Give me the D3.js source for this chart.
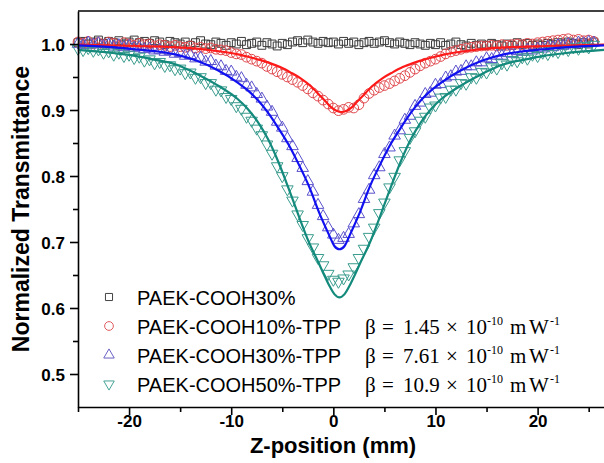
<!DOCTYPE html>
<html>
<head>
<meta charset="utf-8">
<script src="https://cdn.jsdelivr.net/npm/d3@7"></script>
<style>
  html, body { margin: 0; padding: 0; background: #fff; }
  svg { display: block; }
</style>
</head>
<body>
<svg id="chart" width="604" height="463"></svg>
<script>
// Z-scan open-aperture transmittance, step of 0.5 mm along z
const zSamples = d3.range(-25, 25.51, 0.5);

const paek30 = [
  1.002, 1.004, 1.000, 1.003, 1.006, 1.001, 1.004, 1.002, 1.005, 1.000,
  1.003, 1.006, 1.002, 1.004, 1.001, 1.005, 1.003, 0.999, 1.004, 1.002,
  1.000, 1.003, 0.998, 1.002, 1.005, 1.000, 0.999, 1.003, 1.001, 0.998,
  1.002, 1.000, 1.004, 0.999, 1.001, 1.003, 0.998, 1.002, 1.000, 0.997,
  1.001, 0.999, 1.003, 1.005, 1.002, 1.006, 1.003, 1.001, 1.004, 1.002,
  1.003, 1.000, 1.004, 1.001, 1.003, 0.999, 1.002, 1.004, 1.001, 1.003,
  1.005, 1.002, 1.000, 1.003, 1.001, 0.999, 1.002, 1.000, 0.998, 1.001,
  0.999, 1.002, 0.998, 1.000, 1.003, 0.999, 0.997, 1.001, 0.998, 1.000,
  0.998, 1.001, 0.999, 0.997, 1.000, 0.998, 1.002, 0.999, 1.001, 0.998,
  1.000, 0.998, 1.001, 0.999, 1.002, 1.000, 1.003, 1.001, 0.999, 1.002, 1.000, 1.003
];

const tpp10 = [
  1.003, 1.001, 1.004, 1.000, 1.002, 0.999, 1.003, 1.001, 0.998, 1.002,
  1.000, 0.998, 1.001, 0.999, 1.000, 0.997, 0.999, 0.998, 0.996, 0.998,
  0.996, 0.995, 0.997, 0.994, 0.995, 0.993, 0.994, 0.992, 0.991, 0.990,
  0.987, 0.985, 0.984, 0.980, 0.977, 0.974, 0.971, 0.966, 0.962, 0.958,
  0.954, 0.950, 0.946, 0.942, 0.937, 0.932, 0.926, 0.921, 0.915, 0.909,
  0.903, 0.899, 0.901, 0.904, 0.903, 0.908, 0.918, 0.925, 0.930, 0.934,
  0.937, 0.940, 0.944, 0.948, 0.952, 0.957, 0.962, 0.967, 0.971, 0.974,
  0.977, 0.981, 0.985, 0.988, 0.990, 0.992, 0.994, 0.995, 0.996, 0.997,
  0.997, 0.998, 0.997, 0.999, 0.998, 0.999, 1.000, 0.999, 1.001, 1.000,
  1.002, 1.003, 1.004, 1.005, 1.006, 1.007, 1.008, 1.006, 1.007, 1.005, 1.006, 1.004
];

const tpp30 = [
  1.000, 0.998, 1.002, 0.999, 1.001, 0.997, 0.999, 0.996, 0.998, 0.995,
  0.997, 0.994, 0.995, 0.992, 0.993, 0.990, 0.991, 0.988, 0.989, 0.985,
  0.986, 0.982, 0.983, 0.978, 0.979, 0.973, 0.974, 0.967, 0.966, 0.959,
  0.958, 0.950, 0.948, 0.938, 0.934, 0.924, 0.917, 0.905, 0.897, 0.882,
  0.873, 0.857, 0.845, 0.827, 0.812, 0.792, 0.776, 0.756, 0.739, 0.722,
  0.711, 0.703, 0.706, 0.712, 0.728, 0.742, 0.765, 0.779, 0.801, 0.813,
  0.833, 0.843, 0.861, 0.869, 0.885, 0.891, 0.906, 0.911, 0.924, 0.926,
  0.938, 0.939, 0.949, 0.951, 0.958, 0.959, 0.966, 0.966, 0.972, 0.972,
  0.978, 0.977, 0.982, 0.982, 0.986, 0.985, 0.989, 0.988, 0.991, 0.990,
  0.993, 0.993, 0.996, 0.995, 0.998, 0.997, 1.000, 0.999, 1.002, 1.001, 1.003, 1.002
];

const tpp50 = [
  0.993, 0.991, 0.994, 0.990, 0.992, 0.987, 0.989, 0.984, 0.987, 0.982,
  0.984, 0.979, 0.981, 0.975, 0.977, 0.971, 0.973, 0.967, 0.968, 0.962,
  0.963, 0.956, 0.957, 0.949, 0.950, 0.941, 0.941, 0.931, 0.930, 0.920,
  0.917, 0.906, 0.902, 0.890, 0.884, 0.872, 0.862, 0.848, 0.834, 0.815,
  0.800, 0.780, 0.763, 0.742, 0.726, 0.706, 0.692, 0.676, 0.665, 0.652,
  0.643, 0.640, 0.645, 0.651, 0.662, 0.676, 0.690, 0.708, 0.722, 0.744,
  0.760, 0.783, 0.799, 0.824, 0.838, 0.858, 0.868, 0.884, 0.890, 0.904,
  0.907, 0.919, 0.920, 0.931, 0.931, 0.941, 0.940, 0.950, 0.949, 0.958,
  0.957, 0.965, 0.963, 0.971, 0.969, 0.976, 0.974, 0.980, 0.978, 0.984,
  0.982, 0.987, 0.985, 0.990, 0.988, 0.993, 0.991, 0.995, 0.993, 0.997, 0.995, 0.999
];

// Theoretical fits
const fit10Z = [-25, -19.2, -14.2, -11.2, -9.2, -8.2, -7.2, -6.2, -5.2, -4.2,
  -3.2, -2.2, -1.2, -0.7, -0.2, 0.3, 0.8, 1.3, 1.8, 2.3, 2.8, 3.8, 4.8, 5.8,
  6.8, 7.8, 8.8, 9.8, 10.8, 12.8, 15.8, 20.8, 26.5];
const fit10T = [0.999, 0.997, 0.994, 0.989, 0.984, 0.980, 0.976, 0.971, 0.965, 0.957,
  0.948, 0.936, 0.920, 0.912, 0.904, 0.899, 0.897, 0.899, 0.904, 0.912, 0.920, 0.936,
  0.948, 0.957, 0.965, 0.971, 0.976, 0.980, 0.984, 0.989, 0.994, 0.997, 0.999];

const fitZ = [-25, -21.4, -19.4, -17.4, -15.4, -13.4, -11.4, -9.4, -8.4, -7.4,
  -6.4, -5.4, -4.4, -3.4, -2.4, -1.4, -0.9, -0.4, 0.1, 0.6,
  1.1, 1.6, 2.1, 2.6, 3.6, 4.6, 5.6, 6.6, 7.6, 8.6,
  9.6, 10.6, 12.6, 14.6, 16.6, 18.6, 20.6, 22.6, 26.5];
const fit30T = [0.998, 0.995, 0.992, 0.989, 0.984, 0.975, 0.961, 0.942, 0.930, 0.915,
  0.896, 0.873, 0.848, 0.818, 0.785, 0.745, 0.727, 0.710, 0.694, 0.689,
  0.694, 0.710, 0.727, 0.745, 0.785, 0.818, 0.848, 0.873, 0.896, 0.915,
  0.930, 0.942, 0.961, 0.975, 0.984, 0.989, 0.992, 0.995, 0.998];
const fit50T = [0.991, 0.986, 0.982, 0.976, 0.969, 0.955, 0.938, 0.917, 0.902, 0.882,
  0.856, 0.822, 0.782, 0.740, 0.700, 0.667, 0.650, 0.634, 0.621, 0.616,
  0.621, 0.634, 0.650, 0.667, 0.700, 0.740, 0.782, 0.822, 0.856, 0.882,
  0.902, 0.917, 0.938, 0.955, 0.969, 0.976, 0.982, 0.986, 0.991];

const xMajor = [-20, -10, 0, 10, 20];
const xMinor = [-25, -15, -5, 5, 15, 25];
const yMajor = [0.5, 0.6, 0.7, 0.8, 0.9, 1.0];
const yMinor = [0.55, 0.65, 0.75, 0.85, 0.95];

const legendNames = ["PAEK-COOH30%", "PAEK-COOH10%-TPP", "PAEK-COOH30%-TPP", "PAEK-COOH50%-TPP"];
const betaValues = [null, "1.45", "7.61", "10.9"];

(function drawChart() {
  const series = [
    { values: paek30, symbol: d3.symbolSquare, size: 62, legendSize: 50, rot: 0, color: "#3a3a3a", legendColor: "#444" },
    { values: tpp10, symbol: d3.symbolCircle, size: 74, legendSize: 60, rot: 0, color: "#e0474c", legendColor: "#e05a5e" },
    { values: tpp30, symbol: d3.symbolTriangle, size: 58, legendSize: 48, rot: 0, color: "#5a52cc", legendColor: "#6a62c4" },
    { values: tpp50, symbol: d3.symbolTriangle, size: 58, legendSize: 48, rot: 180, color: "#3a9c8e", legendColor: "#45a396" }
  ];

  const fits = [
    { z: fit10Z, t: fit10T, color: "#ff1a1a" },
    { z: fitZ, t: fit50T, color: "#138a7c" },
    { z: fitZ, t: fit30T, color: "#1010f0" }
  ];

  const svg = d3.select("#chart");
  const plotLeft = 78, plotTop = 11, plotBottom = 407, plotRight = 604;

  const x = d3.scaleLinear().domain([-25, 26.5]).range([plotLeft, plotRight]);
  const y = d3.scaleLinear().domain([0.45, 1.05]).range([plotBottom, plotTop]);

  const sans = "'Liberation Sans', Arial, sans-serif";
  const serif = "'Liberation Serif', 'Times New Roman', serif";

  // scatter points
  series.forEach(s => {
    const sym = d3.symbol().type(s.symbol).size(s.size);
    svg.append("g")
      .selectAll("path")
      .data(zSamples.map((z, i) => [z, s.values[i]]))
      .join("path")
      .attr("d", sym)
      .attr("transform", d => `translate(${x(d[0])},${y(d[1])}) rotate(${s.rot})`)
      .attr("fill", "none")
      .attr("stroke", s.color)
      .attr("stroke-width", 1);
  });

  // fitted curves
  const line = d3.line()
    .x(d => x(d[0]))
    .y(d => y(d[1]))
    .curve(d3.curveMonotoneX);

  fits.forEach(f => {
    svg.append("path")
      .datum(f.z.map((z, i) => [z, f.t[i]]))
      .attr("d", line)
      .attr("fill", "none")
      .attr("stroke", f.color)
      .attr("stroke-width", 2.2);
  });

  // axes (plain hyphen for negative tick labels)
  const hyphenInt = d => String(d);
  const xAxis = svg.append("g").attr("transform", `translate(0,${plotBottom})`)
    .call(d3.axisBottom(x).tickValues(xMajor).tickSize(8).tickSizeOuter(0).tickFormat(hyphenInt));
  svg.append("g").attr("transform", `translate(0,${plotBottom})`)
    .call(d3.axisBottom(x).tickValues(xMinor).tickSize(5).tickSizeOuter(0).tickFormat(""))
    .select(".domain").remove();

  const yAxis = svg.append("g").attr("transform", `translate(${plotLeft},0)`)
    .call(d3.axisLeft(y).tickValues(yMajor).tickSize(8).tickSizeOuter(0).tickFormat(d => d.toFixed(1)));
  svg.append("g").attr("transform", `translate(${plotLeft},0)`)
    .call(d3.axisLeft(y).tickValues(yMinor).tickSize(5).tickSizeOuter(0).tickFormat(""))
    .select(".domain").remove();

  svg.selectAll(".domain, .tick line").attr("stroke", "#000").attr("stroke-width", 1.6);
  xAxis.selectAll(".tick text")
    .attr("font-family", sans).attr("font-size", 17).attr("font-weight", "bold")
    .attr("fill", "#000").attr("dy", "0").attr("y", 20);
  yAxis.selectAll(".tick text")
    .attr("font-family", sans).attr("font-size", 17).attr("font-weight", "bold")
    .attr("fill", "#000").attr("x", -13).attr("dy", "0.36em");

  // top frame line
  svg.append("line")
    .attr("x1", plotLeft).attr("x2", plotRight).attr("y1", plotTop).attr("y2", plotTop)
    .attr("stroke", "#000").attr("stroke-width", 1.6);

  // axis titles
  svg.append("text")
    .attr("x", (plotLeft + 588) / 2).attr("y", 453)
    .attr("text-anchor", "middle")
    .attr("font-family", sans).attr("font-size", 22).attr("font-weight", "bold")
    .text("Z-position (mm)");

  svg.append("text")
    .attr("transform", `translate(29,${(plotTop + plotBottom) / 2}) rotate(-90)`)
    .attr("text-anchor", "middle")
    .attr("font-family", sans).attr("font-size", 23).attr("font-weight", "bold")
    .text("Normalized Transmittance");

  // legend
  const legendX = 109, textX = 137, betaX = 365, firstBase = 305, rowGap = 29;
  const legend = svg.append("g");
  series.forEach((s, i) => {
    const base = firstBase + i * rowGap;
    legend.append("path")
      .attr("d", d3.symbol().type(s.symbol).size(s.legendSize))
      .attr("transform", `translate(${legendX},${base - 8}) rotate(${s.rot})`)
      .attr("fill", "none").attr("stroke", s.legendColor).attr("stroke-width", 1);
    legend.append("text")
      .attr("x", textX).attr("y", base)
      .attr("font-family", sans).attr("font-size", 20)
      .text(legendNames[i]);
    if (betaValues[i]) {
      const g = legend.append("g").attr("font-family", serif).attr("font-size", 21).attr("fill", "#000");
      g.append("text").attr("x", betaX).attr("y", base).text("β");
      g.append("text").attr("x", betaX + 17).attr("y", base).text("=");
      g.append("text").attr("x", betaX + 38).attr("y", base).text(betaValues[i]);
      g.append("text").attr("x", betaX + 81).attr("y", base).text("×");
      g.append("text").attr("x", betaX + 101).attr("y", base).text("10");
      g.append("text").attr("x", betaX + 122).attr("y", base - 9).attr("font-size", 12).text("-10");
      g.append("text").attr("x", betaX + 145).attr("y", base).text("m");
      g.append("text").attr("x", betaX + 164).attr("y", base).text("W");
      g.append("text").attr("x", betaX + 185).attr("y", base - 9).attr("font-size", 12).text("-1");
    }
  });
})();
</script>
</body>
</html>
